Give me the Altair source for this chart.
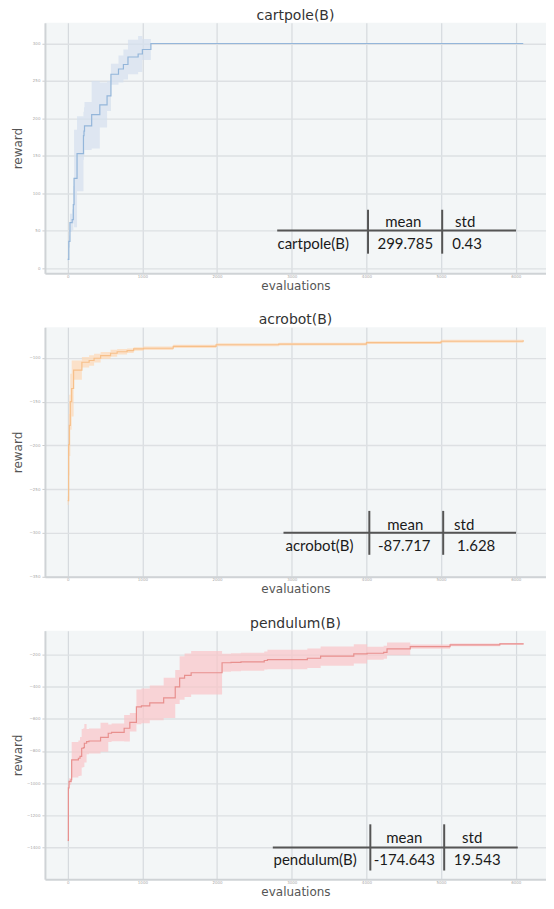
import altair as alt
import pandas as pd

# ---------------- data ----------------
cart_eval = [0, 15, 30, 60, 75, 85, 125, 211, 218, 225, 321, 430, 527, 579, 680, 746, 807, 943, 1000, 1114, 6100]
cart_mean = [12, 36, 61, 65, 85, 120, 153, 177, 183, 190, 205, 218, 230, 259, 266, 272, 282, 286, 292, 300, 300]
cart_std = [2, 8, 12, 14, 25, 65, 50, 32, 32, 32, 45, 30, 20, 14, 18, 20, 23, 24, 14, 0.5, 0.5]

acro_eval = [0, 13, 22, 35, 53, 79, 190, 287, 353, 441, 574, 662, 795, 883, 1015, 1413, 1987, 2826, 4000, 5000, 6100]
acro_mean = [-263, -199, -177, -150, -135, -114, -105, -103, -100.4, -97.4, -94.7, -93, -91.8, -89.8, -89, -86.8, -85, -84.2, -82.5, -81, -80]
acro_std = [5, 35, 35, 32, 32, 11, 6, 6, 5, 4, 4, 3, 2.5, 2, 2, 1.8, 1.6, 1.6, 1.6, 1.6, 1.6]

pend_eval = [0, 9, 18, 45, 53, 143, 165, 187, 209, 223, 253, 285, 440, 543, 587, 756, 832, 920, 987, 1099,
             1285, 1440, 1499, 1565, 1653, 2067, 2187, 2320, 2632, 2675, 3209, 3387, 3831, 4009, 4231, 4276,
             4587, 5120, 5787, 6099]
pend_mean = [-1354, -1029, -989, -978, -855, -845, -834, -783, -779, -752, -742, -738, -715, -690, -684, -659, -622, -526, -520, -502,
             -471, -403, -348, -331, -315, -253, -250, -247, -239, -233, -225, -212, -198, -194, -188, -167,
             -153, -142, -136, -132]
pend_std = [5, 20, 20, 20, 110, 110, 120, 120, 120, 120, 78, 78, 90, 55, 55, 82, 57, 108, 108, 108,
            125, 105, 135, 135, 135, 56, 56, 56, 56, 60, 60, 60, 60, 40, 40, 40,
            13, 8, 6, 5]

x_ticks = [0, 1000, 2000, 3000, 4000, 5000, 6000]

table_names = ["cartpole(B)", "acrobot(B)", "pendulum(B)"]
table_means = ["299.785", "-87.717", "-174.643"]
table_stds = ["0.43", "1.628", "19.543"]
table_header = ["mean", "std"]

FONT = "DejaVu Sans"
TFONT = "Lato"
PLOT_LEFT = 44  # page x of the plot's left edge (for table layout)
W = 502


def panel(i, evals, mean, std, line_color, band_color, ydom, yticks, H, tl):
    df = pd.DataFrame({"evaluations": evals, "reward": mean, "std": std})
    base = alt.Chart(df).transform_calculate(
        lo="datum.reward - datum.std", hi="datum.reward + datum.std"
    )
    xenc = alt.X(
        "evaluations:Q",
        scale=alt.Scale(domain=[-305, 6405], nice=False, zero=False),
        axis=alt.Axis(values=x_ticks, format="d", title="evaluations", labelFontSize=4,
                      labelColor="#a8a8a8", labelPadding=1, ticks=False,
                      titleFontSize=12, titleColor="#555555", titleFont=FONT,
                      titleFontWeight="normal", titlePadding=2,
                      domainColor="#cfd3d6", domainWidth=2,
                      gridColor="#d6dade", gridWidth=1.2, labelFont=FONT),
    )
    yscale = alt.Scale(domain=ydom, nice=False, zero=False)
    yaxis = alt.Axis(values=yticks, format="d", title="reward", labelFontSize=4, labelColor="#a8a8a8",
                     labelPadding=2, tickSize=3, tickColor="#cccccc", labelFont=FONT,
                     titleFontSize=12, titleColor="#555555", titleFont=FONT,
                     titleFontWeight="normal", titlePadding=2, minExtent=18, maxExtent=18,
                     domainColor="#cfd3d6", domainWidth=2,
                     gridColor="#dde0e3", gridWidth=1.4)
    band = base.mark_area(interpolate="step-after", color=band_color, opacity=0.7).encode(
        x=xenc, y=alt.Y("lo:Q", scale=yscale, axis=yaxis), y2="hi:Q"
    )
    line = base.mark_line(interpolate="step-after", color=line_color, strokeWidth=1.2).encode(
        x=xenc, y=alt.Y("reward:Q", scale=yscale, axis=yaxis)
    )

    # ---- table overlay (layout given in page x, and y measured up from plot bottom) ----
    L = PLOT_LEFT
    rules = pd.DataFrame({
        "x1": [tl["h0"] - L, tl["v1"] - L, tl["v2"] - L],
        "x2": [tl["h1"] - L, tl["v1"] - L, tl["v2"] - L],
        "y1": [H - tl["hy"], H - tl["vt"], H - tl["vt"]],
        "y2": [H - tl["hy"], H - tl["vb"], H - tl["vb"]],
    })
    rule = alt.Chart(rules).mark_rule(color="#555555", strokeWidth=2).encode(
        x=alt.X("x1:Q", scale=None), x2="x2:Q",
        y=alt.Y("y1:Q", scale=None), y2="y2:Q",
    )
    centered = pd.DataFrame({
        "label": [table_header[0], table_means[i], table_header[1], table_stds[i]],
        "px": [tl["mh"] - L, tl["mv"] - L, tl["sh"] - L, tl["sv"] - L],
        "py": [H - tl["ry0"], H - tl["ry1"], H - tl["ry0"], H - tl["ry1"]],
    })
    ctext = alt.Chart(centered).mark_text(font=TFONT, fontSize=15, color="#1a1a1a",
                                          align="center", baseline="middle").encode(
        x=alt.X("px:Q", scale=None), y=alt.Y("py:Q", scale=None), text="label:N"
    )
    left = pd.DataFrame({"label": [table_names[i]], "px": [tl["nl"] - L], "py": [H - tl["ry1"]]})
    ltext = alt.Chart(left).mark_text(font=TFONT, fontSize=15, color="#1a1a1a",
                                      align="left", baseline="middle").encode(
        x=alt.X("px:Q", scale=None), y=alt.Y("py:Q", scale=None), text="label:N"
    )

    return alt.layer(band, line, rule, ctext, ltext).properties(
        width=W, height=H,
        title=alt.TitleParams(table_names[i], font=FONT, fontSize=14, fontWeight="normal",
                              color="#333333", offset=0),
    )


p1 = panel(0, cart_eval, cart_mean, cart_std, "#94b6da", "#d4dfee",
           [-6.6, 327.6], [0, 50, 100, 150, 200, 250, 300], 251,
           dict(h0=276.7, h1=516, v1=367.7, v2=442, hy=43, vt=63.7, vb=19.7,
                ry0=51, ry1=29, mh=403, mv=405, sh=465, sv=467, nl=277))
p2 = panel(1, acro_eval, acro_mean, acro_std, "#f7c08a", "#fed8b5",
           [-350, -65], [-350, -300, -250, -200, -150, -100], 250,
           dict(h0=283, h1=516, v1=369, v2=443, hy=44, vt=66, vb=22,
                ry0=52, ry1=31, mh=405, mv=404, sh=464, sv=476, nl=285))
p3 = panel(2, pend_eval, pend_mean, pend_std, "#e8908e", "#f9c5c8",
           [-1595, -54], [-1400, -1200, -1000, -800, -600, -400, -200], 249,
           dict(h0=272.3, h1=517.7, v1=370, v2=444, hy=31.7, vt=55, vb=8.7,
                ry0=41, ry1=19, mh=404, mv=404, sh=472, sv=477, nl=273))

chart = alt.vconcat(p1, p2, p3, spacing=22).properties(
    padding={"left": 4, "top": 0, "right": 0, "bottom": 0}
).configure_view(fill="#f3f6f7", stroke=None).configure_concat(spacing=22)

chart.save("out.html", embed_options={"renderer": "svg", "actions": False})
